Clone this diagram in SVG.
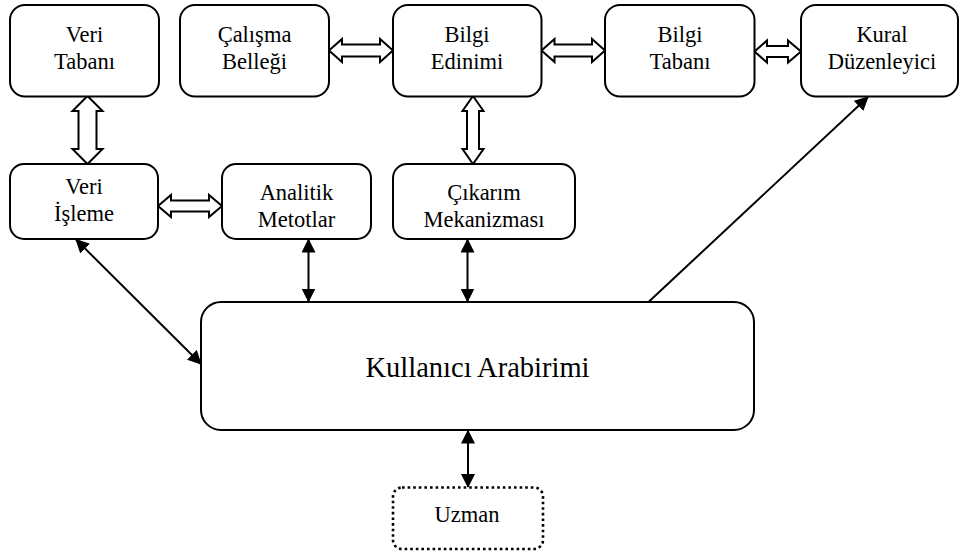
<svg xmlns="http://www.w3.org/2000/svg" width="960" height="558" viewBox="0 0 960 558">
  <style>
    .box { fill: #ffffff; stroke: #000000; stroke-width: 2; }
    .dotted { fill: #ffffff; stroke: #000000; stroke-width: 2.6; stroke-dasharray: 2.6 3; }
    .lbl { font-size: 22.5px; fill: #000000; text-anchor: middle; }
    .big { font-size: 28.5px; }
    .hollow { fill: #ffffff; stroke: #000000; stroke-width: 2; stroke-linejoin: miter; }
    .link { fill: none; stroke: #000000; stroke-width: 2; }
  </style>
  <defs>
    <marker id="head" viewBox="0 0 14 14" refX="13" refY="7" markerWidth="14" markerHeight="14" markerUnits="userSpaceOnUse" orient="auto-start-reverse">
      <path d="M0,0 L14,7 L0,14 Z" fill="#000000"/>
    </marker>
  </defs>

  <rect width="960" height="558" fill="#ffffff"/>

  <!-- connectors -->
  <g id="connectors">
    <!-- wide hollow double arrows -->
    <polygon class="hollow" points="329,50.5 342,39 342,44.5 380,44.5 380,39 393,50.5 380,62 380,56.5 342,56.5 342,62"/>
    <polygon class="hollow" points="541.5,50.5 554.5,39 554.5,44.5 592,44.5 592,39 605,50.5 592,62 592,56.5 554.5,56.5 554.5,62"/>
    <polygon class="hollow" points="754.5,51.5 767,40.5 767,46 788,46 788,40.5 801,51.5 788,62.5 788,57 767,57 767,62.5"/>
    <polygon class="hollow" points="158,206 171,195 171,200.5 209,200.5 209,195 222,206 209,217 209,211.5 171,211.5 171,217"/>
    <polygon class="hollow" points="87.5,96 102.5,111 96.5,111 96.5,149 102.5,149 87.5,164 72.5,149 78.5,149 78.5,111 72.5,111"/>
    <polygon class="hollow" points="473,96 483.5,111 479,111 479,149 483.5,149 473,164 462.5,149 467,149 467,111 462.5,111"/>

    <!-- solid arrows to the user interface -->
    <line class="link" x1="76" y1="239.5" x2="201" y2="364" marker-start="url(#head)" marker-end="url(#head)"/>
    <line class="link" x1="308.5" y1="239.5" x2="308.5" y2="301.5" marker-start="url(#head)" marker-end="url(#head)"/>
    <line class="link" x1="467.5" y1="239.5" x2="467.5" y2="301.5" marker-start="url(#head)" marker-end="url(#head)"/>
    <line class="link" x1="648.5" y1="302" x2="868" y2="97" marker-end="url(#head)"/>
    <line class="link" x1="468" y1="430.5" x2="468" y2="487" marker-start="url(#head)" marker-end="url(#head)"/>
  </g>

  <g font-family="'Liberation Serif', 'DejaVu Serif', serif">
  <!-- top row -->
  <g id="veri-tabani">
    <rect class="box" x="10" y="5" width="149" height="91.5" rx="15"/>
    <text class="lbl" x="84.5" y="42">Veri</text>
    <text class="lbl" x="84.5" y="68.5">Tabanı</text>
  </g>
  <g id="calisma-bellegi">
    <rect class="box" x="180" y="5" width="149" height="91.5" rx="15"/>
    <text class="lbl" x="254.5" y="42">Çalışma</text>
    <text class="lbl" x="254.5" y="68.5">Belleği</text>
  </g>
  <g id="bilgi-edinimi">
    <rect class="box" x="393" y="5" width="148.5" height="91.5" rx="15"/>
    <text class="lbl" x="467" y="42">Bilgi</text>
    <text class="lbl" x="467" y="68.5">Edinimi</text>
  </g>
  <g id="bilgi-tabani">
    <rect class="box" x="605" y="5" width="149.5" height="91.5" rx="15"/>
    <text class="lbl" x="680" y="42">Bilgi</text>
    <text class="lbl" x="680" y="68.5">Tabanı</text>
  </g>
  <g id="kural-duzenleyici">
    <rect class="box" x="801" y="5" width="157" height="91.5" rx="15"/>
    <text class="lbl" x="882" y="42">Kural</text>
    <text class="lbl" x="882" y="68.5">Düzenleyici</text>
  </g>

  <!-- middle row -->
  <g id="veri-isleme">
    <rect class="box" x="10" y="164" width="148" height="75" rx="14"/>
    <text class="lbl" x="84" y="194">Veri</text>
    <text class="lbl" x="84" y="220.5">İşleme</text>
  </g>
  <g id="analitik-metotlar">
    <rect class="box" x="222" y="164" width="149" height="75" rx="14"/>
    <text class="lbl" x="296.5" y="200">Analitik</text>
    <text class="lbl" x="296.5" y="226.5">Metotlar</text>
  </g>
  <g id="cikarim-mekanizmasi">
    <rect class="box" x="393" y="164" width="182" height="75" rx="14"/>
    <text class="lbl" x="484" y="200">Çıkarım</text>
    <text class="lbl" x="484" y="226.5">Mekanizması</text>
  </g>

  <!-- user interface -->
  <g id="kullanici-arabirimi">
    <rect class="box" x="201" y="302" width="553" height="128" rx="20"/>
    <text class="lbl big" x="477.5" y="376.5">Kullanıcı Arabirimi</text>
  </g>

  <!-- expert -->
  <g id="uzman">
    <rect class="dotted" x="393" y="487.5" width="150" height="61.5" rx="9"/>
    <text class="lbl" x="467" y="521.5">Uzman</text>
  </g>
  </g>
</svg>
